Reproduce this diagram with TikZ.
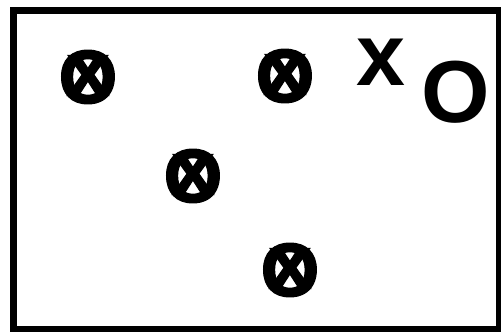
\documentclass[tikz,border=0pt]{standalone}
\usepackage{fontspec}
\setmainfont{Liberation Sans}
\newfontfamily\heavyfont{Liberation Sans Bold}[FakeBold=1.5]
\newcommand{\xo}{\makebox[0pt]{O}\makebox[0pt]{\raisebox{0.1em}{x}}}
\begin{document}
\begin{tikzpicture}[
        x=1pt, y=-1pt,
        marker/.style={inner sep=0pt, font=\fontsize{76}{76}\heavyfont},
        letter/.style={inner sep=0pt, anchor=base, font=\fontsize{88}{88}\selectfont\bfseries}
    ]
    \useasboundingbox (0,0) rectangle (501,332);
    \draw[line width=6.5pt] (13.5,10.5) rectangle (499,329.5);
    % the four marks
    \node[marker] (m1) at (88,77) {\xo};
    \node[marker] (m2) at (285,76) {\xo};
    \node[marker] (m3) at (193,176) {\xo};
    \node[marker] (m4) at (290,270) {\xo};
    % the two symbols
    \node[letter] (x) at (381,85) {x};
    \node[letter] (o) at (456,122) {O};
\end{tikzpicture}
\end{document}
